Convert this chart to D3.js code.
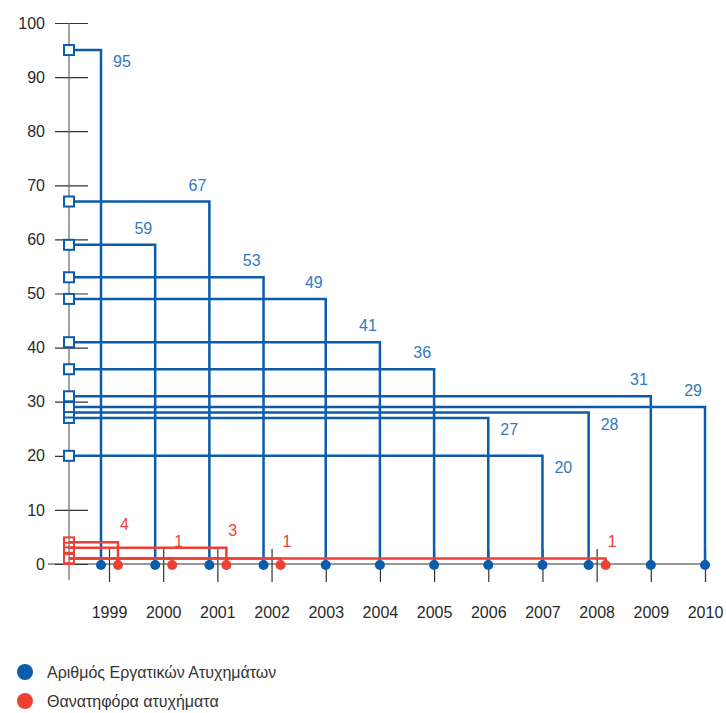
<!DOCTYPE html>
<html>
<head>
<meta charset="utf-8">
<script src="https://cdn.jsdelivr.net/npm/d3@7"></script>
<style>
  body { margin: 0; background: #fff; }
  svg { font-family: "Liberation Sans", Arial, sans-serif; }
</style>
</head>
<body>
<svg id="chart" width="726" height="713"></svg>
<script>
// ---- data ----
const years = ["1999","2000","2001","2002","2003","2004","2005","2006","2007","2008","2009","2010"];
const accidents = [95, 59, 67, 53, 49, 41, 36, 27, 20, 28, 31, 29];
const fatalYears = ["1999","2000","2001","2002","2008"];
const fatal = [4, 1, 3, 1, 1];
const yTicks = [0, 10, 20, 30, 40, 50, 60, 70, 80, 90, 100];
const seriesNames = ["Αριθμός Εργατικών Ατυχημάτων", "Θανατηφόρα ατυχήματα"];

// ---- drawing ----
const blue = "#0b5cab", blueText = "#3179bf", red = "#ee4136";
const svg = d3.select("#chart");
const axisX = 69;
const y = d3.scaleLinear().domain([0, 100]).range([564, 23]);
const x = d3.scalePoint().domain(years).range([109, 705]);
const sub = d3.scalePoint().domain(["a", "f"]).range([-8, 9]);
const fatalSet = new Set(fatalYears);
const bx = yr => x(yr) + (fatalSet.has(yr) ? sub("a") : 0);
const rx = yr => x(yr) + sub("f");
const belowLabels = new Set(["1999", "2006", "2007", "2008"]);

// y axis
const yAxis = d3.axisLeft(y).tickValues(yTicks).tickSize(0).tickPadding(24);
const gy = svg.append("g").attr("transform", `translate(${axisX},0)`).call(yAxis);
gy.select(".domain").remove();
gy.selectAll(".tick text").attr("font-size", 16).attr("fill", "#2a2a2a");
gy.selectAll(".tick").append("line").attr("x1", -14).attr("x2", 19).attr("stroke", "#333").attr("stroke-width", 1.2);
svg.append("line").attr("x1", axisX).attr("x2", axisX).attr("y1", y(100)).attr("y2", 580)
  .attr("stroke", "#666").attr("stroke-width", 1.2);

// x axis
svg.append("line").attr("x1", 48).attr("x2", 710).attr("y1", y(0)).attr("y2", y(0))
  .attr("stroke", "#333").attr("stroke-width", 1.2);
const xAxis = d3.axisBottom(x).tickSize(0).tickPadding(0);
const gx = svg.append("g").attr("transform", `translate(0,${y(0)})`).call(xAxis);
gx.select(".domain").remove();
gx.selectAll(".tick line").remove();
gx.selectAll(".tick").append("line").attr("y1", -15).attr("y2", 18).attr("stroke", "#333").attr("stroke-width", 1.2);
gx.selectAll(".tick text").attr("y", 54).attr("dy", 0).attr("font-size", 16).attr("fill", "#2a2a2a");

// blue series
const bData = years.map((yr, i) => ({ yr, v: accidents[i] }));
const bg = svg.append("g");
bg.selectAll("path.b").data(bData).enter().append("path")
  .attr("d", d => `M${axisX},${y(d.v)}H${bx(d.yr)}V${y(0)}`)
  .attr("fill", "none").attr("stroke", blue).attr("stroke-width", 2.5);
bg.selectAll("rect").data(bData).enter().append("rect")
  .attr("x", axisX - 5).attr("y", d => y(d.v) - 5).attr("width", 10).attr("height", 10)
  .attr("fill", "#fff").attr("stroke", blue).attr("stroke-width", 2);
bg.selectAll("circle").data(bData).enter().append("circle")
  .attr("cx", d => bx(d.yr)).attr("cy", y(0) + 1).attr("r", 5).attr("fill", blue);
bg.selectAll("text").data(bData).enter().append("text")
  .attr("x", d => belowLabels.has(d.yr) ? bx(d.yr) + 12 : bx(d.yr) - 3)
  .attr("y", d => belowLabels.has(d.yr) ? y(d.v) + 17 : y(d.v) - 11)
  .attr("text-anchor", d => belowLabels.has(d.yr) ? "start" : "end")
  .attr("font-size", 16).attr("fill", blueText).text(d => d.v);

// red series
const rData = fatalYears.map((yr, i) => ({ yr, v: fatal[i] }));
const rg = svg.append("g");
rg.selectAll("path").data(rData).enter().append("path")
  .attr("d", d => `M${axisX},${y(d.v)}H${rx(d.yr)}V${y(0)}`)
  .attr("fill", "none").attr("stroke", red).attr("stroke-width", 2.5);
rg.selectAll("rect").data(rData).enter().append("rect")
  .attr("x", axisX - 5).attr("y", d => y(d.v) - 5).attr("width", 10).attr("height", 10)
  .attr("fill", "none").attr("stroke", red).attr("stroke-width", 2);
rg.selectAll("circle").data(rData).enter().append("circle")
  .attr("cx", d => rx(d.yr)).attr("cy", y(0) + 1).attr("r", 5).attr("fill", red);
rg.selectAll("text").data(rData).enter().append("text")
  .attr("x", d => rx(d.yr) + 2).attr("y", d => y(d.v) - 12)
  .attr("font-size", 16).attr("fill", red).text(d => d.v);

// legend
const lg = svg.append("g");
[blue, red].forEach((c, i) => {
  lg.append("circle").attr("cx", 25).attr("cy", 672 + i * 29).attr("r", 8).attr("fill", c);
  lg.append("text").attr("x", 47).attr("y", 672 + i * 29).attr("dy", "0.35em")
    .attr("font-size", 16).attr("fill", "#333").text(seriesNames[i]);
});
</script>
</body>
</html>
